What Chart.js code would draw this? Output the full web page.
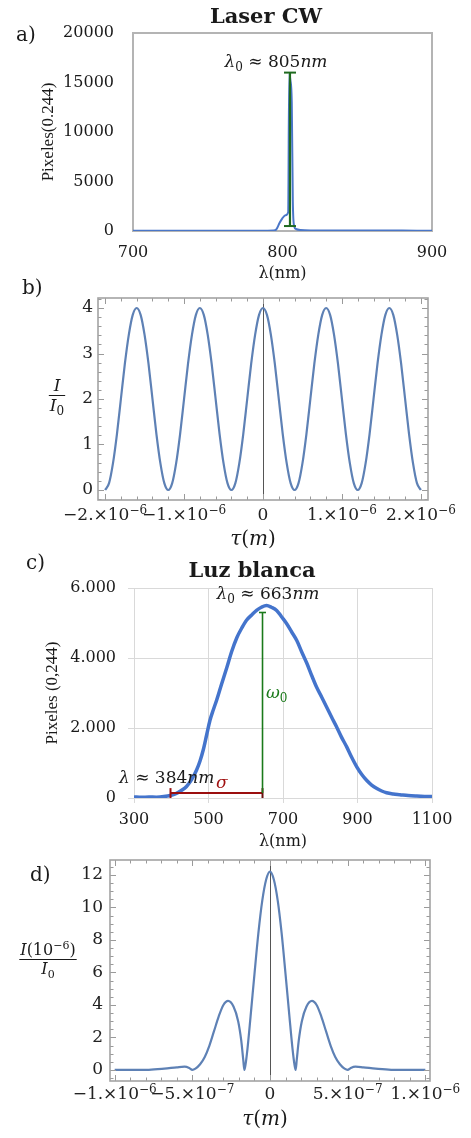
<!DOCTYPE html>
<html>
<head>
<meta charset="utf-8">
<script src="https://cdn.jsdelivr.net/npm/chart.js@4.4.1/dist/chart.umd.min.js"></script>
<style>
  html, body { margin: 0; padding: 0; background: #fff; }
  body { width: 471px; height: 1138px; position: relative; overflow: hidden; }
  canvas { position: absolute; left: 0; }
</style>
</head>
<body>
<canvas id="chartA" width="471" height="285" style="top:0px"></canvas>
<canvas id="chartB" width="471" height="285" style="top:270px"></canvas>
<canvas id="chartC" width="471" height="300" style="top:552px"></canvas>
<canvas id="chartD" width="471" height="293" style="top:845px"></canvas>
<script>
// a) Laser CW spectrum (nm, pixel counts)
const lambdaA = [700, 720, 740, 760, 780, 790, 794, 796, 798, 800, 802, 803.8, 804.5, 805.3, 806.2, 806.9, 807.8, 809, 812, 820, 840, 860, 880, 900];
const countsA = [30, 20, 35, 25, 30, 30, 40, 180, 800, 1300, 1600, 1900, 15900, 15200, 13000, 3000, 500, 200, 100, 60, 50, 45, 40, 35];
const peakA = 805;
const barA = [500, 16000];
const ticksAx = [700, 800, 900];
const ticksAy = [0, 5000, 10000, 15000, 20000];

// b) I/I0 vs tau, tau in units of 1e-6 m
const tauB = [-2.0, -1.95, -1.9, -1.85, -1.8, -1.75, -1.7, -1.65, -1.6, -1.55, -1.5, -1.45, -1.4, -1.35, -1.3, -1.25,
  -1.2, -1.15, -1.1, -1.05, -1.0, -0.95, -0.9, -0.85, -0.8, -0.75, -0.7, -0.65, -0.6, -0.55, -0.5, -0.45,
  -0.4, -0.35, -0.3, -0.25, -0.2, -0.15, -0.1, -0.05, 0, 0.05, 0.1, 0.15, 0.2, 0.25, 0.3, 0.35,
  0.4, 0.45, 0.5, 0.55, 0.6, 0.65, 0.7, 0.75, 0.8, 0.85, 0.9, 0.95, 1.0, 1.05, 1.1, 1.15,
  1.2, 1.25, 1.3, 1.35, 1.4, 1.45, 1.5, 1.55, 1.6, 1.65, 1.7, 1.75, 1.8, 1.85, 1.9, 1.95, 2.0];
const intensityB = [0, 0.15, 0.59, 1.23, 2, 2.77, 3.41, 3.85, 4, 3.85, 3.41, 2.77, 2, 1.23, 0.59, 0.15,
  0, 0.15, 0.59, 1.23, 2, 2.77, 3.41, 3.85, 4, 3.85, 3.41, 2.77, 2, 1.23, 0.59, 0.15,
  0, 0.15, 0.59, 1.23, 2, 2.77, 3.41, 3.85, 4, 3.85, 3.41, 2.77, 2, 1.23, 0.59, 0.15,
  0, 0.15, 0.59, 1.23, 2, 2.77, 3.41, 3.85, 4, 3.85, 3.41, 2.77, 2, 1.23, 0.59, 0.15,
  0, 0.15, 0.59, 1.23, 2, 2.77, 3.41, 3.85, 4, 3.85, 3.41, 2.77, 2, 1.23, 0.59, 0.15, 0];
const ticksBx = [-2, -1, 0, 1, 2];
const tickLabelsBx = [['−2.×10', '−6'], ['−1.×10', '−6'], ['0', ''], ['1.×10', '−6'], ['2.×10', '−6']];
const ticksBy = [0, 1, 2, 3, 4];

// c) white light spectrum (nm, pixel counts)
const lambdaC = [300, 320, 340, 360, 380, 400, 414, 428, 441, 455, 468, 477, 486, 495, 504, 513, 522, 535, 549, 562, 576, 589,
  602, 616, 629, 642, 656, 669, 683, 696, 710, 723, 737, 750, 764, 777, 790, 804, 817, 830, 844, 857, 871, 884, 898, 911,
  925, 938, 952, 965, 978, 996, 1014, 1036, 1059, 1080, 1100];
const countsC = [30, 20, 30, 25, 40, 80, 130, 220, 330, 530, 800, 1050, 1380, 1800, 2220, 2520, 2800, 3250, 3720, 4180, 4580, 4850,
  5080, 5230, 5360, 5450, 5500, 5450, 5360, 5180, 4980, 4750, 4500, 4180, 3850, 3500, 3170, 2880, 2600, 2320, 2030, 1740, 1460, 1170, 890, 680,
  500, 370, 270, 200, 150, 115, 95, 70, 55, 45, 40];
const peakC = 645;
const barC = [140, 5300];
const sigmaC = [398, 645];
const ticksCx = [300, 500, 700, 900, 1100];
const ticksCy = [0, 2000, 4000, 6000];
const tickLabelsCy = ['0', '2.000', '4.000', '6.000'];

// d) I(1e-6)/I0 vs tau, tau in units of 1e-7 m
const tauD = [-10, -9, -7.8, -6.8, -6, -5.5, -5.2, -5, -4.8, -4.5, -4.2, -3.9, -3.6, -3.3, -3, -2.7, -2.35, -2.05, -1.85, -1.72, -1.65, -1.58, -1.45, -1.25, -1, -0.75, -0.5, -0.25,
  0, 0.25, 0.5, 0.75, 1, 1.25, 1.45, 1.58, 1.65, 1.72, 1.85, 2.05, 2.35, 2.7, 3, 3.3, 3.6, 3.9, 4.2, 4.5, 4.8, 5, 5.2, 5.5, 6, 6.8, 7.8, 9, 10];
const intensityD = [0, 0, 0.01, 0.08, 0.16, 0.2, 0.12, 0, 0.08, 0.35, 0.8, 1.5, 2.4, 3.3, 4.0, 4.25, 3.9, 3.0, 1.8, 0.6, 0, 0.3, 1.3, 3.3, 5.9, 8.4, 10.4, 11.7,
  12.2, 11.7, 10.4, 8.4, 5.9, 3.3, 1.3, 0.3, 0, 0.6, 1.8, 3.0, 3.9, 4.25, 4.0, 3.3, 2.4, 1.5, 0.8, 0.35, 0.08, 0, 0.12, 0.2, 0.16, 0.08, 0.01, 0, 0];
const ticksDx = [-10, -5, 0, 5, 10];
const tickLabelsDx = [['−1.×10', '−6'], ['−5.×10', '−7'], ['0', ''], ['5.×10', '−7'], ['1.×10', '−6']];
const ticksDy = [0, 2, 4, 6, 8, 10, 12];

const SERIF = '"DejaVu Serif"';
const TIMES = '"Liberation Serif"';
const INK = '#1a1a1a';

function pts(xs, ys) {
  return xs.map((x, i) => ({ x: x, y: ys[i] }));
}

// fixes the box size of an axis so the plot area lands where the reference has it
function fix(w, h) {
  return s => {
    if (w != null) s.width = w;
    if (h != null) s.height = h;
    s.paddingTop = 0; s.paddingBottom = 0; s.paddingLeft = 0; s.paddingRight = 0;
  };
}

function setTicks(values) {
  return s => { s.ticks = values.map(v => ({ value: v })); };
}

// text with italic / subscript / superscript pieces
function drawRich(ctx, parts, x, y, size, align, color) {
  const fontOf = p => (p.it ? 'italic ' : '') + (p.bold ? 'bold ' : '') +
    ((p.sub || p.sup) ? Math.round(size * 0.68) : size) + 'px ' + SERIF;
  let w = 0;
  parts.forEach(p => { ctx.font = fontOf(p); p.w = ctx.measureText(p.t).width; w += p.w; });
  let cx = align === 'center' ? x - w / 2 : (align === 'right' ? x - w : x);
  ctx.textAlign = 'left';
  ctx.textBaseline = 'alphabetic';
  parts.forEach(p => {
    ctx.font = fontOf(p);
    ctx.fillStyle = p.color || color || INK;
    ctx.fillText(p.t, cx, y + (p.sub ? size * 0.25 : (p.sup ? -size * 0.38 : 0)));
    cx += p.w;
  });
  return w;
}

function drawFrac(ctx, num, den, cx, yBar, size) {
  ctx.save();
  const w1 = drawRich(ctx, num, cx, yBar - 4, size, 'center');
  const w2 = drawRich(ctx, den, cx, yBar + size * 0.95, size, 'center');
  const w = Math.max(w1, w2) + 2;
  ctx.strokeStyle = INK;
  ctx.lineWidth = 1;
  ctx.beginPath();
  ctx.moveTo(cx - w / 2, yBar + 0.5);
  ctx.lineTo(cx + w / 2, yBar + 0.5);
  ctx.stroke();
  ctx.restore();
}

// Mathematica style frame: grey box, ticks pointing inward on all four sides
function drawFrame(chart, xMinor, yMinor, xMajor, yMajor) {
  const { ctx, chartArea: ca, scales: { x, y } } = chart;
  ctx.save();
  ctx.strokeStyle = '#9a9a9a';
  ctx.lineWidth = 1;
  ctx.beginPath();
  const xs = [], ys = [];
  for (let k = Math.ceil(x.min / xMinor - 1e-9); k * xMinor <= x.max + 1e-9; k++) xs.push(k * xMinor);
  for (let k = Math.ceil(y.min / yMinor - 1e-9); k * yMinor <= y.max + 1e-9; k++) ys.push(k * yMinor);
  xs.forEach(v => {
    const px = Math.round(x.getPixelForValue(v)) + 0.5;
    const len = xMajor.some(m => Math.abs(m - v) < 1e-6) ? 6 : 3.5;
    ctx.moveTo(px, ca.bottom); ctx.lineTo(px, ca.bottom - len);
    ctx.moveTo(px, ca.top); ctx.lineTo(px, ca.top + len);
  });
  ys.forEach(v => {
    const py = Math.round(y.getPixelForValue(v)) + 0.5;
    const len = yMajor.some(m => Math.abs(m - v) < 1e-6) ? 6 : 3.5;
    ctx.moveTo(ca.left, py); ctx.lineTo(ca.left + len, py);
    ctx.moveTo(ca.right, py); ctx.lineTo(ca.right - len, py);
  });
  ctx.stroke();
  ctx.lineWidth = 1.6;
  ctx.strokeStyle = '#a3a3a3';
  ctx.strokeRect(ca.left, ca.top, ca.right - ca.left, ca.bottom - ca.top);
  ctx.restore();
}

function drawExpLabels(chart, values, labels, offset) {
  const { ctx, chartArea: ca, scales: { x } } = chart;
  ctx.save();
  values.forEach((v, i) => {
    const parts = [{ t: labels[i][0] }];
    if (labels[i][1]) parts.push({ t: labels[i][1], sup: true });
    drawRich(ctx, parts, x.getPixelForValue(v), ca.bottom + offset, 17, 'center', '#222');
  });
  ctx.restore();
}

function drawZeroAxis(chart) {
  const { ctx, chartArea: ca, scales: { x } } = chart;
  const px = Math.round(x.getPixelForValue(0)) + 0.5;
  ctx.save();
  ctx.strokeStyle = '#555';
  ctx.lineWidth = 1;
  ctx.beginPath();
  ctx.moveTo(px, ca.top);
  ctx.lineTo(px, ca.bottom);
  ctx.stroke();
  ctx.restore();
}

const baseOptions = {
  responsive: false,
  animation: false,
  events: [],
  plugins: { legend: { display: false }, tooltip: { enabled: false } }
};

const tickFont = { family: SERIF, size: 16 };

// ---------- a) Laser CW ----------
new Chart(document.getElementById('chartA'), {
  type: 'line',
  data: {
    datasets: [
      {
        data: pts([peakA, peakA], barA),
        borderColor: '#1f6a1f', borderWidth: 2.2,
        pointStyle: 'line', pointRadius: 6, pointBorderWidth: 2, pointBorderColor: '#1f6a1f'
      },
      {
        data: pts(lambdaA, countsA),
        borderColor: '#4a76c8', borderWidth: 2,
        pointRadius: 0, cubicInterpolationMode: 'monotone'
      }
    ]
  },
  options: Object.assign({}, baseOptions, {
    layout: { padding: { top: 33, right: 39, left: 0, bottom: 0 } },
    scales: {
      x: {
        type: 'linear', min: 700, max: 900,
        afterBuildTicks: setTicks(ticksAx), afterFit: fix(null, 54),
        grid: { display: false, drawTicks: false }, border: { display: false },
        ticks: { font: tickFont, color: INK, padding: 12, callback: v => String(v) },
        title: { display: true, text: 'λ(nm)', font: { family: SERIF, size: 16 }, color: INK, padding: { top: 0, bottom: 2 } }
      },
      y: {
        type: 'linear', min: 0, max: 20000,
        afterBuildTicks: setTicks(ticksAy), afterFit: fix(133, null),
        grid: { display: false, drawTicks: false }, border: { display: false },
        ticks: { font: tickFont, color: INK, padding: 19, callback: v => String(v) },
        title: { display: true, text: 'Pixeles(0.244)', font: { family: TIMES, size: 17 }, color: INK, padding: { top: 38, bottom: 0 } }
      }
    }
  }),
  plugins: [{
    id: 'decorA',
    beforeDatasetsDraw(chart) {
      const { ctx, chartArea: ca } = chart;
      ctx.save();
      ctx.strokeStyle = '#b4b4b4';
      ctx.lineWidth = 2;
      ctx.strokeRect(ca.left, ca.top, ca.right - ca.left, ca.bottom - ca.top);
      ctx.restore();
    },
    afterDraw(chart) {
      const { ctx } = chart;
      ctx.save();
      drawRich(ctx, [{ t: 'a)' }], 16, 41, 20, 'left');
      drawRich(ctx, [{ t: 'Laser CW', bold: true }], 266, 23, 21, 'center');
      drawRich(ctx, [{ t: 'λ', it: true }, { t: '0', sub: true }, { t: ' ≈ 805' }, { t: 'nm', it: true }], 276, 67, 17, 'center');
      ctx.restore();
    }
  }]
});

// ---------- b) I/I0 ----------
new Chart(document.getElementById('chartB'), {
  type: 'line',
  data: {
    datasets: [{
      data: pts(tauB, intensityB),
      borderColor: '#5e81b5', borderWidth: 2.2,
      pointRadius: 0, cubicInterpolationMode: 'monotone'
    }]
  },
  options: Object.assign({}, baseOptions, {
    layout: { padding: { top: 28, right: 43, left: 0, bottom: 0 } },
    scales: {
      x: {
        type: 'linear', min: -2.09, max: 2.09,
        afterBuildTicks: setTicks(ticksBx), afterFit: fix(null, 55),
        grid: { display: false, drawTicks: false }, border: { display: false },
        ticks: { display: false }
      },
      y: {
        type: 'linear', min: -0.22, max: 4.22,
        afterBuildTicks: setTicks(ticksBy), afterFit: fix(98, null),
        grid: { display: false, drawTicks: false }, border: { display: false },
        ticks: { font: { family: SERIF, size: 17 }, color: '#222', padding: 5, callback: v => String(v) }
      }
    }
  }),
  plugins: [{
    id: 'decorB',
    beforeDatasetsDraw(chart) { drawZeroAxis(chart); },
    afterDraw(chart) {
      const { ctx } = chart;
      drawFrame(chart, 0.2, 0.2, ticksBx, ticksBy);
      drawExpLabels(chart, ticksBx, tickLabelsBx, 20);
      ctx.save();
      drawRich(ctx, [{ t: 'b)' }], 22, 24, 20, 'left');
      drawFrac(ctx, [{ t: 'I', it: true }], [{ t: 'I', it: true }, { t: '0', sub: true }], 57, 125, 17);
      drawRich(ctx, [{ t: 'τ', it: true }, { t: '(' }, { t: 'm', it: true }, { t: ')' }], 253, 275, 20, 'center');
      ctx.restore();
    }
  }]
});

// ---------- c) Luz blanca ----------
new Chart(document.getElementById('chartC'), {
  type: 'line',
  data: {
    datasets: [
      {
        data: pts([peakC, peakC], barC),
        borderColor: '#1b7a1b', borderWidth: 1.6,
        pointStyle: 'line', pointRadius: [0, 3.5], pointBorderWidth: 1.6, pointBorderColor: '#1b7a1b'
      },
      {
        data: pts(sigmaC, [barC[0], barC[0]]),
        borderColor: '#9b0f0f', borderWidth: 2,
        pointStyle: 'line', pointRotation: 90, pointRadius: 5, pointBorderWidth: 2,
        pointBorderColor: ['#9b0f0f', '#6b1010']
      },
      {
        data: pts(lambdaC, countsC),
        borderColor: '#4474cc', borderWidth: 3.5,
        pointRadius: 0, cubicInterpolationMode: 'monotone'
      }
    ]
  },
  options: Object.assign({}, baseOptions, {
    layout: { padding: { top: 36, right: 39, left: 0, bottom: 0 } },
    scales: {
      x: {
        type: 'linear', min: 300, max: 1100,
        afterBuildTicks: setTicks(ticksCx), afterFit: fix(null, 54),
        grid: { color: '#d9d9d9', lineWidth: 1, drawTicks: true, tickLength: 5 }, border: { display: false },
        ticks: { font: tickFont, color: INK, padding: 7, callback: v => String(v) },
        title: { display: true, text: 'λ(nm)', font: { family: SERIF, size: 16 }, color: INK, padding: { top: 0, bottom: 1 } }
      },
      y: {
        type: 'linear', min: 0, max: 6000,
        afterBuildTicks: setTicks(ticksCy), afterFit: fix(134, null),
        grid: { color: '#d9d9d9', lineWidth: 1, drawTicks: true, tickLength: 6 }, border: { display: false },
        ticks: { font: tickFont, color: INK, padding: 12, callback: (v, i) => tickLabelsCy[i] },
        title: { display: true, text: 'Pixeles (0,244)', font: { family: TIMES, size: 17 }, color: INK, padding: { top: 42, bottom: 0 } }
      }
    }
  }),
  plugins: [{
    id: 'decorC',
    afterDraw(chart) {
      const { ctx } = chart;
      ctx.save();
      drawRich(ctx, [{ t: 'c)' }], 26, 17, 20, 'left');
      drawRich(ctx, [{ t: 'Luz blanca', bold: true }], 252, 25, 21, 'center');
      drawRich(ctx, [{ t: 'λ', it: true }, { t: '0', sub: true }, { t: ' ≈ 663' }, { t: 'nm', it: true }], 268, 47, 17, 'center');
      drawRich(ctx, [{ t: 'λ', it: true }, { t: ' ≈ 384' }, { t: 'nm', it: true }], 119, 231, 17, 'left');
      drawRich(ctx, [{ t: 'σ', it: true, color: '#a01010' }], 216, 236, 17, 'left');
      drawRich(ctx, [{ t: 'ω', it: true, color: '#1b7a1b' }, { t: '0', sub: true, color: '#1b7a1b' }], 266, 146, 17, 'left');
      ctx.restore();
    }
  }]
});

// ---------- d) I(1e-6)/I0 ----------
new Chart(document.getElementById('chartD'), {
  type: 'line',
  data: {
    datasets: [{
      data: pts(tauD, intensityD),
      borderColor: '#5e81b5', borderWidth: 2.2,
      pointRadius: 0, cubicInterpolationMode: 'monotone'
    }]
  },
  options: Object.assign({}, baseOptions, {
    layout: { padding: { top: 15, right: 41, left: 0, bottom: 0 } },
    scales: {
      x: {
        type: 'linear', min: -10.3, max: 10.3,
        afterBuildTicks: setTicks(ticksDx), afterFit: fix(null, 57),
        grid: { display: false, drawTicks: false }, border: { display: false },
        ticks: { display: false }
      },
      y: {
        type: 'linear', min: -0.68, max: 12.92,
        afterBuildTicks: setTicks(ticksDy), afterFit: fix(110, null),
        grid: { display: false, drawTicks: false }, border: { display: false },
        ticks: { font: { family: SERIF, size: 17 }, color: '#222', padding: 7, callback: v => String(v) }
      }
    }
  }),
  plugins: [{
    id: 'decorD',
    beforeDatasetsDraw(chart) { drawZeroAxis(chart); },
    afterDraw(chart) {
      const { ctx } = chart;
      drawFrame(chart, 1, 0.5, ticksDx, ticksDy);
      drawExpLabels(chart, ticksDx, tickLabelsDx, 18);
      ctx.save();
      drawRich(ctx, [{ t: 'd)' }], 30, 36, 20, 'left');
      drawFrac(ctx, [{ t: 'I', it: true }, { t: '(10' }, { t: '−6', sup: true }, { t: ')' }],
        [{ t: 'I', it: true }, { t: '0', sub: true }], 48, 114, 16);
      drawRich(ctx, [{ t: 'τ', it: true }, { t: '(' }, { t: 'm', it: true }, { t: ')' }], 265, 280, 20, 'center');
      ctx.restore();
    }
  }]
});
</script>
</body>
</html>
